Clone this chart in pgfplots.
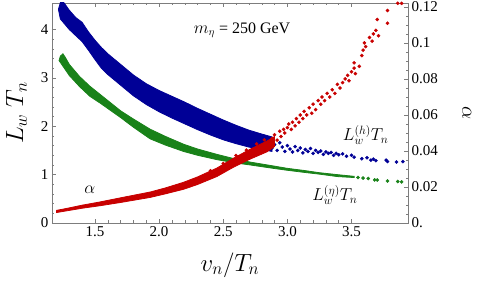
\documentclass[border=0pt]{standalone}
\usepackage{pgfplots}
\pgfplotsset{compat=1.18}
\usepackage{fontspec}
\setmainfont{Liberation Serif}
\definecolor{bluec}{RGB}{0,0,150}
\definecolor{greenc}{RGB}{25,130,25}
\definecolor{redc}{RGB}{200,0,0}
\definecolor{axc}{RGB}{125,125,125}
\pgfplotsset{common/.style={
 scale only axis, width=356pt, height=220pt,
 xmin=1.165, xmax=3.94,
 tick align=inside,
 major tick length=4pt, minor tick length=2.5pt,
 every tick/.style={axc, line width=0.5pt},
 axis line style={axc, line width=0.6pt},
 tick label style={font=\fontsize{15}{15}\selectfont, black},
 /pgf/number format/assume math mode=true,
}}
\begin{document}
\begin{tikzpicture}
\begin{axis}[common, name=ax1,
 ymin=0, ymax=4.55,
 xtick={1.5,2,2.5,3,3.5}, minor x tick num=4,
 xticklabel pos=bottom,
 ytick={0,1,2,3,4}, minor y tick num=4, ytick pos=left,
 x tick label style={/pgf/number format/.cd, fixed, fixed zerofill, precision=1},
 xlabel={$v_n/T_n$},
 ylabel={$L_w\;T_n$},
 xlabel style={font=\fontsize{23}{23}\selectfont, at={(axis description cs:0.5,-0.19)}, anchor=center},
 ylabel style={font=\fontsize{23}{23}\selectfont, at={(axis description cs:-0.10,0.5)}, anchor=center},
]
% blue band L_w^(h) T_n
\addplot[draw=bluec, fill=bluec, line width=0.8pt] coordinates {
(1.215,4.42) (1.235,4.60) (1.26,4.55) (1.30,4.40) (1.35,4.25) (1.40,4.15) (1.45,3.95) (1.50,3.78) (1.55,3.63) (1.60,3.50) (1.70,3.28) (1.80,3.06) (1.90,2.88) (2.00,2.74) (2.10,2.62) (2.20,2.50) (2.30,2.37) (2.40,2.25) (2.50,2.13) (2.60,2.02) (2.70,1.92) (2.80,1.84) (2.88,1.78)
(2.88,1.48) (2.80,1.52) (2.70,1.57) (2.60,1.64) (2.50,1.72) (2.40,1.82) (2.30,1.93) (2.20,2.05) (2.10,2.17) (2.00,2.30) (1.90,2.45) (1.80,2.63) (1.70,2.85) (1.60,3.07) (1.55,3.20) (1.50,3.38) (1.45,3.57) (1.40,3.75) (1.30,4.00) (1.23,4.22) (1.215,4.42)};
\addplot[only marks, mark=*, mark size=1.6pt, color=bluec] coordinates {
(2.86,1.68) (2.88,1.55) (2.90,1.62) (2.92,1.50) (2.94,1.66) (2.96,1.57) (2.98,1.48) (3.00,1.60) (3.02,1.53) (3.04,1.47) (3.06,1.58) (3.08,1.50) (3.10,1.55) (3.12,1.45) (3.14,1.52) (3.16,1.48) (3.18,1.54) (3.20,1.44) (3.22,1.50) (3.24,1.46) (3.26,1.49) (3.28,1.42) (3.30,1.47) (3.32,1.44) (3.34,1.46) (3.36,1.40) (3.38,1.44) (3.40,1.41) (3.43,1.43) (3.46,1.38) (3.50,1.40) (3.52,1.36) (3.58,1.33) (3.62,1.35) (3.65,1.30) (3.67,1.32) (3.69,1.29) (3.77,1.30) (3.78,1.27) (3.85,1.26) (3.90,1.27)};
% green band L_w^(eta) T_n
\addplot[draw=greenc, fill=greenc, line width=0.8pt] coordinates {
(1.23,3.45) (1.25,3.50) (1.27,3.42) (1.30,3.28) (1.38,3.03) (1.46,2.83) (1.54,2.66) (1.62,2.49) (1.70,2.32) (1.80,2.15) (1.93,1.94) (2.05,1.79) (2.19,1.63) (2.30,1.53) (2.45,1.42) (2.60,1.32) (2.71,1.26) (2.89,1.18) (3.00,1.13) (3.12,1.09) (3.25,1.04) (3.39,1.00) (3.52,0.965)
(3.52,0.94) (3.39,0.96) (3.25,1.01) (3.12,1.05) (3.00,1.09) (2.89,1.13) (2.71,1.20) (2.60,1.24) (2.45,1.31) (2.30,1.40) (2.19,1.48) (2.05,1.61) (1.93,1.74) (1.80,1.98) (1.70,2.18) (1.62,2.33) (1.54,2.48) (1.46,2.62) (1.38,2.82) (1.30,3.05) (1.22,3.36) (1.23,3.45)};
\addplot[only marks, mark=*, mark size=1.6pt, color=greenc] coordinates {
(3.55,0.94) (3.59,0.93) (3.63,0.92) (3.68,0.89) (3.70,0.89) (3.78,0.87) (3.86,0.86) (3.89,0.85)};
\node[font=\fontsize{16}{16}\selectfont] at (axis description cs:0.534,0.877) {$m_\eta$ = 250 GeV};
\node[font=\fontsize{18}{18}\selectfont] at (axis cs:1.46,0.68) {$\alpha$};
\node[font=\fontsize{17}{17}\selectfont] at (axis cs:3.61,1.82) {$L_w^{(h)}T_n$};
\node[font=\fontsize{17}{17}\selectfont] at (axis cs:3.37,0.58) {$L_w^{(\eta)}T_n$};
\end{axis}
\begin{axis}[common,
 ymin=0, ymax=0.1222,
 axis x line=none, axis y line*=right,
 ytick={0,0.02,0.04,0.06,0.08,0.10,0.12},
 yticklabels={0.,0.02,0.04,0.06,0.08,0.1,0.12},
 minor y tick num=3,
 ylabel={$\alpha$},
 ylabel style={font=\fontsize{20}{20}\selectfont, at={(axis description cs:1.165,0.5)}, anchor=center, rotate=180},
]
\addplot[draw=redc, fill=redc, line width=0.8pt] coordinates {
(1.20,0.0070) (1.30,0.0084) (1.40,0.0099) (1.54,0.0117) (1.70,0.0140) (1.93,0.0172) (2.05,0.0195) (2.19,0.0226) (2.30,0.0256) (2.45,0.0305) (2.58,0.0360) (2.71,0.0410) (2.84,0.0455) (2.90,0.0480)
(2.90,0.0425) (2.84,0.0395) (2.71,0.0355) (2.58,0.0310) (2.45,0.0258) (2.30,0.0214) (2.19,0.0187) (2.05,0.0162) (1.93,0.0142) (1.70,0.0114) (1.54,0.0096) (1.40,0.0082) (1.30,0.0070) (1.20,0.0058) (1.20,0.0070)};
\addplot[only marks, mark=*, mark size=1.6pt, color=redc] coordinates {
(2.40,0.0290) (2.50,0.0330) (2.60,0.0375) (2.68,0.0405) (2.76,0.0440) (2.82,0.0462)
(2.88,0.047) (2.90,0.049) (2.92,0.046) (2.94,0.051) (2.95,0.048) (2.97,0.052) (2.98,0.050) (3.00,0.053) (3.01,0.055) (3.03,0.052) (3.04,0.056) (3.06,0.054) (3.07,0.058) (3.09,0.056) (3.10,0.060) (3.12,0.058) (3.13,0.062) (3.15,0.060) (3.17,0.064) (3.19,0.061) (3.20,0.066) (3.22,0.063) (3.24,0.068) (3.26,0.066) (3.27,0.070) (3.29,0.068) (3.31,0.072) (3.33,0.070) (3.35,0.074) (3.37,0.072) (3.39,0.077) (3.41,0.075) (3.43,0.078) (3.45,0.080) (3.47,0.082) (3.48,0.079) (3.50,0.084) (3.52,0.089) (3.52,0.086) (3.53,0.083) (3.56,0.087) (3.58,0.093) (3.59,0.096) (3.60,0.100) (3.61,0.098) (3.64,0.103) (3.66,0.101) (3.67,0.105) (3.69,0.107) (3.70,0.113) (3.71,0.104) (3.78,0.111) (3.78,0.118) (3.86,0.122) (3.88,0.123) (3.89,0.122)};
\end{axis}
\pgfresetboundingbox
\path[use as bounding box] ([shift={(-52pt,-60pt)}]ax1.south west) rectangle ([shift={(72pt,3pt)}]ax1.north east);
\end{tikzpicture}
\end{document}
